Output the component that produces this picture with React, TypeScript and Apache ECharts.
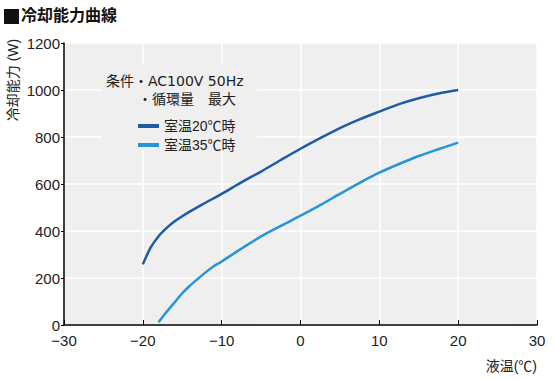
import React, { useEffect, useRef } from "react";
import * as echarts from "echarts";

const seriesNames = ["室温20℃時", "室温35℃時"];
const xTemp20 = [-20, -19, -18, -17, -16, -15, -12.5, -10, -7.5, -5, -2.5, 0, 2.5, 5, 7.5, 10, 12.5, 15, 17.5, 20];
const yTemp20 = [258, 330, 378, 412, 440, 463, 512, 558, 607, 653, 702, 750, 795, 838, 875, 908, 940, 965, 985, 1000];
const xTemp35 = [-18, -17, -16, -15, -14, -13, -12, -11, -10, -7.5, -5, -2.5, 0, 2.5, 5, 7.5, 10, 12.5, 15, 17.5, 20];
const yTemp35 = [12, 55, 95, 135, 168, 197, 225, 250, 270, 325, 377, 422, 465, 510, 558, 605, 648, 685, 719, 748, 776];
const colors = ["#1d5ba3", "#2795d5"];
const conditionLines = ["条件・AC100V 50Hz", "・循環量　最大"];

const FONT = "'Liberation Sans', Arial, 'Noto Sans CJK JP', sans-serif";
const WIDE = "'DejaVu Sans', 'Noto Sans CJK JP', sans-serif";

export default function App() {
  const ref = useRef<HTMLDivElement>(null);
  useEffect(() => {
    if (!ref.current) return;
    const chart = echarts.init(ref.current, undefined, { renderer: "svg" });
    chart.setOption({
      animation: false,
      textStyle: { fontFamily: FONT },
      grid: { left: 64, right: 17, top: 43, bottom: 55, containLabel: false, show: true, backgroundColor: "#efefef", borderWidth: 0 },
      legend: {
        data: seriesNames,
        orient: "vertical",
        left: 133,
        top: 114,
        itemWidth: 21,
        itemHeight: 4,
        itemGap: 5,
        icon: "rect",
        z: 10,
        textStyle: { fontSize: 14, color: "#222", fontFamily: FONT, padding: [0, 0, 0, 0] },
      },
      graphic: [
        { type: "rect", shape: { x: 4, y: 9, width: 15, height: 15 }, style: { fill: "#111" } },
        { type: "text", left: 21, top: 7, style: { text: "冷却能力曲線", fontSize: 16, fontWeight: "bold", fill: "#111", fontFamily: FONT } },
        { type: "rect", z: 5, shape: { x: 102, y: 64, width: 155, height: 86 }, style: { fill: "#efefef" } },
        { type: "text", z: 6, left: 106, top: 74, style: { text: conditionLines[0], fontSize: 14, fill: "#222", fontFamily: WIDE } },
        { type: "text", z: 6, left: 138, top: 92, style: { text: conditionLines[1], fontSize: 14, fill: "#222", fontFamily: FONT } },
        {
          type: "text",
          x: 13,
          y: 80,
          rotation: Math.PI / 2,
          style: { text: "冷却能力 (W)", fontSize: 14, fill: "#222", fontFamily: FONT, align: "center", verticalAlign: "middle" },
        },
      ],
      xAxis: {
        type: "value",
        min: -30,
        max: 30,
        interval: 10,
        name: "液温(℃)",
        nameLocation: "end",
        nameGap: 0,
        nameTextStyle: { fontSize: 14, color: "#222", align: "right", verticalAlign: "top", padding: [34, 0, 0, 0] },
        axisLine: { show: true, onZero: false, lineStyle: { color: "#000", width: 1.5 } },
        axisTick: { show: true, inside: true, length: 5, lineStyle: { color: "#000" } },
        axisLabel: {
          fontSize: 15,
          color: "#222",
          margin: 8,
          formatter: (v: number) => String(v).replace("-", "−"),
        },
        splitLine: { show: true, lineStyle: { color: "#ffffff", width: 1.5 } },
      },
      yAxis: {
        type: "value",
        min: 0,
        max: 1200,
        interval: 200,
        axisLine: { show: true, onZero: false, lineStyle: { color: "#000", width: 1.5 } },
        axisTick: { show: true, inside: false, length: 3, lineStyle: { color: "#000" } },
        axisLabel: { fontSize: 15, color: "#222", margin: 4, formatter: (v: number) => String(v) },
        splitLine: { show: true, lineStyle: { color: "#ffffff", width: 1.5 } },
      },
      series: [
        {
          name: seriesNames[0],
          type: "line",
          data: xTemp20.map((x, i) => [x, yTemp20[i]]),
          smooth: 0.3,
          showSymbol: false,
          lineStyle: { color: colors[0], width: 2.5 },
          itemStyle: { color: colors[0] },
        },
        {
          name: seriesNames[1],
          type: "line",
          data: xTemp35.map((x, i) => [x, yTemp35[i]]),
          smooth: 0.3,
          showSymbol: false,
          lineStyle: { color: colors[1], width: 2.5 },
          itemStyle: { color: colors[1] },
        },
      ],
    });
    return () => chart.dispose();
  }, []);
  return <div ref={ref} style={{ width: 554, height: 380, position: "absolute", left: 0, top: 0 }} />;
}
